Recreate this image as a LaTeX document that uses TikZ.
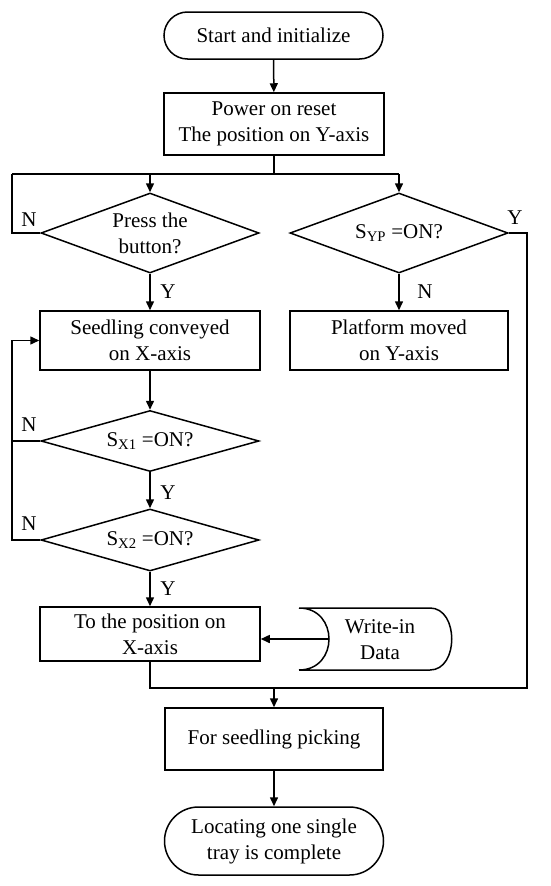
\documentclass[tikz,border=0pt]{standalone}
\usepackage{fontspec}
\setmainfont{Liberation Serif}
\usetikzlibrary{arrows.meta,shapes.geometric}
\begin{document}
\begin{tikzpicture}[x=1pt,y=-1pt,line width=1.5pt,
  >={Triangle[length=9pt,width=8pt]},
  every node/.style={font=\fontsize{21}{26}\selectfont},
  box/.style={draw,rectangle,align=center,inner sep=0pt,minimum width=220pt},
  term/.style={draw,rectangle,align=center,inner sep=0pt,minimum width=219pt},
  dia/.style={draw,diamond,inner sep=0pt,minimum width=218pt},
  txt/.style={align=center,inner sep=0pt},
  yn/.style={inner sep=0pt}]
\useasboundingbox (0,0) rectangle (550,886);
% terminals and boxes
\node[term,minimum height=47pt,rounded corners=23.5pt] (start) at (273.5,35.5) {Start and initialize};
\node[box,minimum height=62pt] (power) at (274,124) {Power on reset\\The position on Y-axis};
\node[dia,minimum height=80pt] (d1) at (150,233) {};
\node[txt] (d1t) at (150,233) {Press the\\button?};
\node[dia,minimum height=80pt] (d2) at (399,233) {};
\node[txt] (d2t) at (399,233) {S\textsubscript{YP} =ON?};
\node[box,minimum height=59pt] (seed) at (150,340.5) {Seedling conveyed\\on X-axis};
\node[box,minimum width=218pt,minimum height=59pt] (plat) at (399,340.5) {Platform moved\\on Y-axis};
\node[dia,minimum height=61pt] (sx1) at (150,441) {};
\node[txt] (sx1t) at (150,441) {S\textsubscript{X1} =ON?};
\node[dia,minimum height=62pt] (sx2) at (150,540) {};
\node[txt] (sx2t) at (150,540) {S\textsubscript{X2} =ON?};
\node[box,minimum height=54pt] (tp) at (150,634) {To the position on\\X-axis};
\node[box,minimum width=218pt,minimum height=62pt] (fs) at (274,739) {For seedling picking};
\node[term,minimum height=68pt,rounded corners=34pt] (end) at (274,841) {Locating one single\\tray is complete};
% stored data shape
\draw (299,608) -- (430,608) .. controls (459,608) and (459,670) .. (430,670) -- (299,670)
      (299,608) .. controls (339,608) and (339,670) .. (299,670);
\coordinate (data) at (329,639);
\node[txt] (datat) at (380,640) {Write-in\\Data};
% coordinates
\coordinate (split) at (274,174);
\coordinate (sl) at (150,174);
\coordinate (sr) at (399,174);
\coordinate (nl) at (12,174);
\coordinate (yr) at (527,233);
\coordinate (merge) at (274,688);
\coordinate (loop) at (12,340.5);
% connectors
\draw[->] (start) -- (power);
\draw (power.south) -- (split);
\draw (nl) -- (sr);
\draw[->] (sl) -- (d1.north);
\draw[->] (sr) -- (d2.north);
\draw (d1.west) -| (nl);
\draw[->] (d1.south) -- (seed.north);
\draw[->] (d2.south) -- (plat.north);
\draw (d2.east) -- (yr) |- (merge);
\draw[->] (seed.south) -- (sx1.north);
\draw[->] (sx1.south) -- (sx2.north);
\draw (sx1.west) -| (loop);
\draw[->] (sx2.west) -| (loop) -- (seed.west);
\draw[->] (sx2.south) -- (tp.north);
\draw[->] (data) -- (data -| tp.east);
\draw (tp.south) |- (merge);
\draw[->] (merge) -- (fs.north);
\draw[->] (fs) -- (end);
% labels
\node[yn] (n1) at (29,220) {N};
\node[yn] (y1) at (515,218) {Y};
\node[yn] (y2) at (168,292) {Y};
\node[yn] (n2) at (425,292) {N};
\node[yn] (n3) at (29,425) {N};
\node[yn] (y3) at (168,493) {Y};
\node[yn] (n4) at (29,524) {N};
\node[yn] (y4) at (168,589) {Y};
\end{tikzpicture}
\end{document}
